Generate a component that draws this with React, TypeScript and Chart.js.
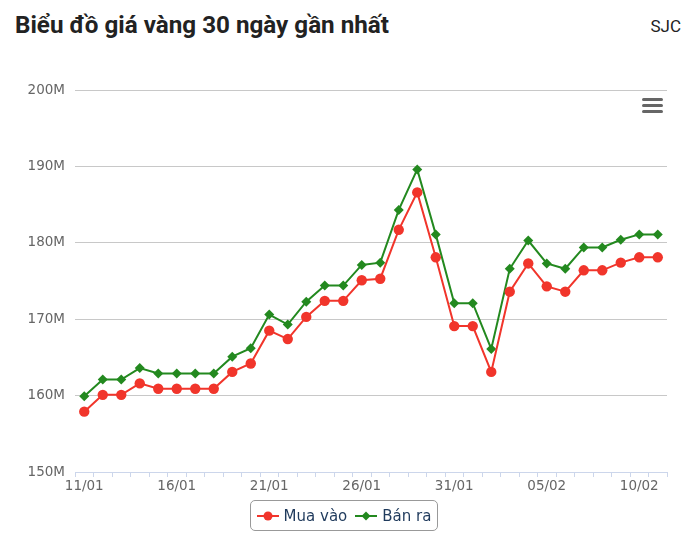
import React, { useEffect, useRef } from "react";
import { Chart, registerables } from "chart.js";

Chart.register(...registerables);

const dates = [
  "11/01", "12/01", "13/01", "14/01", "15/01", "16/01", "17/01", "18/01", "19/01", "20/01",
  "21/01", "22/01", "23/01", "24/01", "25/01", "26/01", "27/01", "28/01", "29/01", "30/01",
  "31/01", "01/02", "02/02", "03/02", "04/02", "05/02", "06/02", "07/02", "08/02", "09/02",
  "10/02", "11/02",
];

// giá (triệu đồng)
const muaVao = [
  157.9, 160.1, 160.1, 161.6, 160.9, 160.9, 160.9, 160.9, 163.1, 164.2,
  168.5, 167.4, 170.3, 172.4, 172.4, 175.1, 175.3, 181.7, 186.6, 178.1,
  169.1, 169.1, 163.1, 173.6, 177.3, 174.3, 173.6, 176.4, 176.4, 177.4,
  178.1, 178.1,
];

const banRa = [
  159.9, 162.1, 162.1, 163.6, 162.9, 162.9, 162.9, 162.9, 165.1, 166.2,
  170.6, 169.3, 172.3, 174.4, 174.4, 177.1, 177.4, 184.3, 189.6, 181.1,
  172.1, 172.1, 166.1, 176.6, 180.3, 177.3, 176.6, 179.4, 179.4, 180.4,
  181.1, 181.1,
];

const yTicks = [150, 160, 170, 180, 190, 200];

const RED = "#f1352b";
const GREEN = "#23891f";
const FONT = "'DejaVu Sans', Verdana, sans-serif";

export default function App() {
  const canvasRef = useRef<HTMLCanvasElement | null>(null);
  const titleRef = useRef<HTMLSpanElement | null>(null);

  useEffect(() => {
    document.body.style.margin = "0";
    const t = titleRef.current;
    if (t) {
      const w = t.getBoundingClientRect().width;
      if (w > 0) t.style.transform = `scaleX(${374 / w})`;
    }
    const ctx = canvasRef.current!.getContext("2d")!;
    const chart = new Chart(ctx, {
      type: "line",
      data: {
        labels: dates,
        datasets: [
          {
            label: "Mua vào",
            data: muaVao,
            borderColor: RED,
            backgroundColor: RED,
            pointBackgroundColor: RED,
            pointBorderColor: RED,
            pointBorderWidth: 0,
            pointStyle: "circle",
            pointRadius: 5.2,
            borderWidth: 2,
            tension: 0,
          },
          {
            label: "Bán ra",
            data: banRa,
            borderColor: GREEN,
            backgroundColor: GREEN,
            pointBackgroundColor: GREEN,
            pointBorderColor: GREEN,
            pointBorderWidth: 0,
            pointStyle: "rectRot",
            pointRadius: 5,
            borderWidth: 2,
            tension: 0,
          },
        ],
      },
      options: {
        animation: false,
        responsive: false,
        maintainAspectRatio: false,
        layout: { padding: { top: 90, right: 33, left: 0, bottom: 44 } },
        plugins: {
          legend: { display: false },
          tooltip: { enabled: false },
          title: { display: false },
        },
        scales: {
          x: {
            type: "category",
            offset: true,
            grid: {
              display: true,
              drawOnChartArea: false,
              drawTicks: true,
              tickLength: 5,
              color: "#ccd6eb",
              offset: true,
            },
            border: { display: true, color: "#ccd6eb", width: 1 },
            ticks: {
              autoSkip: false,
              maxRotation: 0,
              minRotation: 0,
              padding: 1,
              color: "#666666",
              font: { family: FONT, size: 13.5 },
              callback: (_v: any, i: number) => (i % 5 === 0 ? dates[i] : ""),
            },
            afterFit: (s: any) => {
              s.height = 30;
            },
          },
          y: {
            min: yTicks[0],
            max: yTicks[yTicks.length - 1],
            afterBuildTicks: (s: any) => {
              s.ticks = yTicks.map((v) => ({ value: v }));
            },
            grid: { color: "#c8c8c8", drawTicks: false, lineWidth: 1 },
            border: { display: false },
            ticks: {
              padding: 10,
              color: "#666666",
              font: { family: FONT, size: 13.5 },
              callback: (v: any) => `${v}M`,
            },
            afterFit: (s: any) => {
              s.width = 75;
            },
          },
        },
      },
    });
    return () => chart.destroy();
  }, []);

  const bar: React.CSSProperties = {
    width: 21,
    height: 3,
    background: "#666666",
    borderRadius: 1.5,
    marginBottom: 3,
  };

  return (
    <div style={{ position: "absolute", left: 0, top: 0, width: 700, height: 546, background: "#fff" }}>
      <span
        ref={titleRef}
        style={{
          position: "absolute",
          left: 15,
          top: 10,
          fontFamily: "Roboto, sans-serif",
          fontWeight: 700,
          fontSize: 23.5,
          lineHeight: "30px",
          color: "#222222",
          whiteSpace: "nowrap",
          transformOrigin: "0 0",
          display: "inline-block",
        }}
      >
        Biểu đồ giá vàng 30 ngày gần nhất
      </span>
      <span
        style={{
          position: "absolute",
          right: 19,
          top: 15,
          fontFamily: "Roboto, sans-serif",
          fontSize: 17,
          lineHeight: "22px",
          color: "#222222",
        }}
      >
        SJC
      </span>
      <canvas
        ref={canvasRef}
        width={700}
        height={546}
        style={{ position: "absolute", left: 0, top: 0, width: 700, height: 546 }}
      />
      <div style={{ position: "absolute", left: 642, top: 98 }}>
        <div style={bar} />
        <div style={bar} />
        <div style={bar} />
      </div>
      <div
        style={{
          position: "absolute",
          left: 250,
          top: 500,
          width: 188,
          height: 31,
          boxSizing: "border-box",
          border: "1px solid #999999",
          borderRadius: 5,
          display: "flex",
          alignItems: "center",
          justifyContent: "center",
          gap: 8,
          fontFamily: FONT,
          fontSize: 15,
          color: "#1f3a5c",
        }}
      >
        <span style={{ display: "flex", alignItems: "center" }}>
          <svg width={22} height={12} style={{ marginRight: 5 }}>
            <line x1={0} y1={6} x2={22} y2={6} stroke={RED} strokeWidth={2} />
            <circle cx={11} cy={6} r={4.5} fill={RED} />
          </svg>
          Mua vào
        </span>
        <span style={{ display: "flex", alignItems: "center" }}>
          <svg width={22} height={12} style={{ marginRight: 5 }}>
            <line x1={0} y1={6} x2={22} y2={6} stroke={GREEN} strokeWidth={2} />
            <polygon points="11,1.5 15.5,6 11,10.5 6.5,6" fill={GREEN} />
          </svg>
          Bán ra
        </span>
      </div>
    </div>
  );
}
